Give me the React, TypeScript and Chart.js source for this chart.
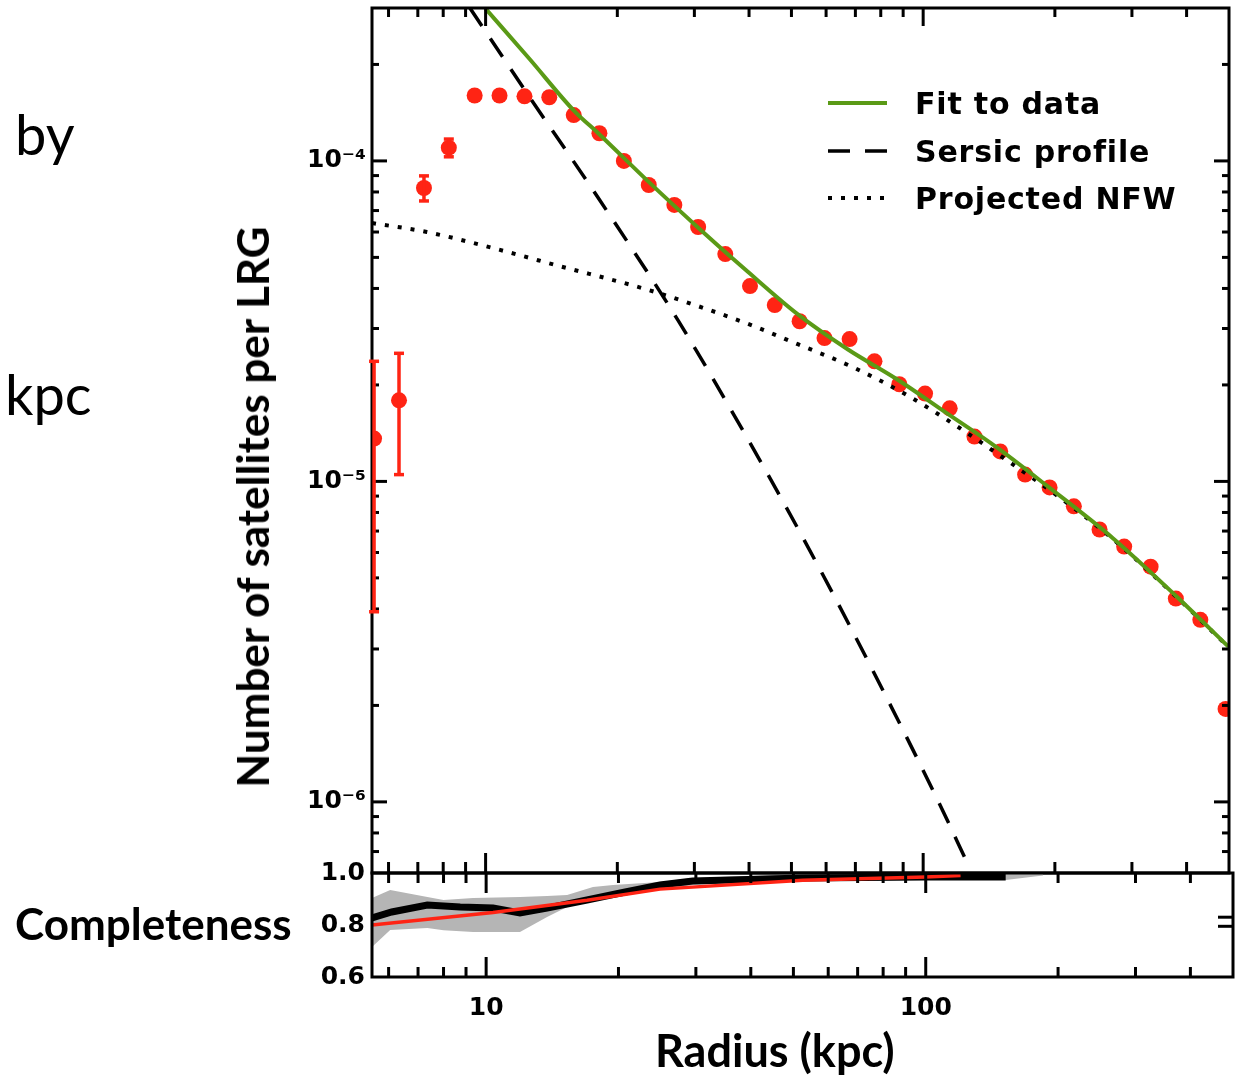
import React, { useEffect, useRef } from "react";
import { Chart, registerables } from "chart.js";

Chart.register(...registerables);

// ---------- axis ranges & ticks ----------
const X_MIN = 5.5;
const X_MAX = 500;
const Y_MIN = 6e-7;
const Y_MAX = 3e-4;
const C_MIN = 0.6;
const C_MAX = 1.0;

const xMajorTicks = [10, 100];
const xMinorTicks = [6, 7, 8, 9, 20, 30, 40, 50, 60, 70, 80, 90, 200, 300, 400];
const xTickLabels = ["10", "100"];
const yMajorTicks = [1e-6, 1e-5, 1e-4];
const yTickLabels = ["10⁻⁶", "10⁻⁵", "10⁻⁴"];
const yMinorTicks = [7e-7, 8e-7, 9e-7, 2e-6, 3e-6, 4e-6, 5e-6, 6e-6, 7e-6, 8e-6, 9e-6, 2e-5, 3e-5, 4e-5, 5e-5, 6e-5, 7e-5, 8e-5, 9e-5, 2e-4];
const cTicks = [0.6, 0.8, 1.0];
const cTickLabels = ["0.6", "0.8", "1.0"];
const cRightMarks = [0.795, 0.83];

// ---------- satellite profile (points) ----------
const radius = [5.56, 6.34, 7.23, 8.24, 9.44, 10.76, 12.27, 13.98, 15.9, 18.2, 20.7, 23.6, 27.0, 30.6, 35.3, 40.2, 45.8, 52.2, 59.5, 67.9, 77.4, 88.2, 101, 115, 131, 150, 171, 194.5, 221, 253, 288, 331, 378, 430, 491];
const satellites = [1.36e-5, 1.79e-5, 8.23e-5, 1.1e-4, 1.6e-4, 1.6e-4, 1.59e-4, 1.58e-4, 1.39e-4, 1.22e-4, 1.0e-4, 8.41e-5, 7.29e-5, 6.22e-5, 5.12e-5, 4.07e-5, 3.55e-5, 3.16e-5, 2.8e-5, 2.78e-5, 2.37e-5, 2.01e-5, 1.88e-5, 1.69e-5, 1.38e-5, 1.24e-5, 1.05e-5, 9.58e-6, 8.36e-6, 7.08e-6, 6.26e-6, 5.42e-6, 4.31e-6, 3.7e-6, 1.95e-6];
const errLow = [3.92e-6, 1.05e-5, 7.5e-5, 1.03e-4];
const errHigh = [2.37e-5, 2.51e-5, 8.98e-5, 1.17e-4];

// ---------- model curves ----------
const fitR = [10.0, 12.59, 15.93, 18.16, 23.59, 30.65, 39.81, 51.72, 67.19, 87.29, 113.4, 147.3, 191.3, 271.8, 377.8, 498.5];
const fitN = [2.985e-4, 2.083e-4, 1.433e-4, 1.214e-4, 8.6e-5, 6.18e-5, 4.5e-5, 3.32e-5, 2.585e-5, 2.08e-5, 1.63e-5, 1.277e-5, 9.72e-6, 6.64e-6, 4.4e-6, 3.05e-6];

const sersicR = [9.197, 12.59, 18.16, 27.6, 39.2, 51.72, 67.19, 87.29, 107.6, 125.9];
const sersicN = [3.007e-4, 1.585e-4, 7.605e-5, 3.162e-5, 1.4e-5, 7.13e-6, 3.65e-6, 1.817e-6, 1.022e-6, 6.49e-7];

const nfwR = [5.5, 7.34, 10.37, 14.73, 23.22, 30.65, 39.8, 51.7, 68.2, 90.5, 119.5, 147.3, 208.9, 271.8, 377.8, 498.5];
const nfwN = [6.4e-5, 6.0e-5, 5.35e-5, 4.7e-5, 3.98e-5, 3.52e-5, 3.1e-5, 2.68e-5, 2.29e-5, 1.88e-5, 1.486e-5, 1.224e-5, 8.75e-6, 6.6e-6, 4.38e-6, 3.04e-6];

// ---------- completeness panel ----------
const bandR = [5.5, 6.05, 7.35, 8.0, 9.34, 11.94, 13.76, 15.28, 17.5, 19.44, 24.86, 29.5, 52.5, 100, 152, 185];
const bandHigh = [0.904, 0.935, 0.908, 0.896, 0.904, 0.908, 0.912, 0.915, 0.946, 0.954, 0.965, 0.981, 0.996, 1.0, 1.0, 0.996];
const bandLow = [0.715, 0.781, 0.788, 0.78, 0.773, 0.773, 0.831, 0.869, 0.896, 0.915, 0.935, 0.954, 0.973, 0.977, 0.973, 0.99];

const measR = [5.5, 6.1, 7.35, 8.73, 10.37, 11.94, 13.76, 16.96, 20.2, 24.86, 29.5, 52.5, 100, 152];
const measC = [0.827, 0.85, 0.877, 0.869, 0.865, 0.846, 0.865, 0.896, 0.923, 0.954, 0.969, 0.981, 0.985, 0.985];

const modelR = [5.5, 10.37, 16.96, 24.86, 52.5, 100, 120];
const modelC = [0.8, 0.848, 0.895, 0.938, 0.972, 0.985, 0.99];

// ---------- styles ----------
const GREEN = "#5a9a16";
const RED = "#ff2414";
const GRAY = "#b5b5b5";
const TICK_FONT = { family: "DejaVu Sans", size: 25, weight: "bold" as const };

const pts = (xs: number[], ys: number[]) => xs.map((x, i) => ({ x, y: ys[i] }));

function drawXTicks(ctx: CanvasRenderingContext2D, xs: any, y: number, dir: number, majLen: number, minLen: number) {
  for (const v of xMajorTicks) {
    const px = xs.getPixelForValue(v);
    ctx.beginPath(); ctx.moveTo(px, y); ctx.lineTo(px, y + dir * majLen); ctx.stroke();
  }
  for (const v of xMinorTicks) {
    const px = xs.getPixelForValue(v);
    ctx.beginPath(); ctx.moveTo(px, y); ctx.lineTo(px, y + dir * minLen); ctx.stroke();
  }
}

const mainDecor = {
  id: "mainDecor",
  afterDatasetsDraw(chart: any) {
    const { ctx, chartArea: a, scales } = chart;
    const xs = scales.x, ys = scales.y;
    ctx.save();
    ctx.strokeStyle = "#000";
    ctx.lineWidth = 3;
    ctx.lineCap = "butt";
    drawXTicks(ctx, xs, a.top, 1, 18, 9);
    drawXTicks(ctx, xs, a.bottom, -1, 20, 11);
    for (const v of yMajorTicks) {
      const py = ys.getPixelForValue(v);
      ctx.beginPath(); ctx.moveTo(a.left, py); ctx.lineTo(a.left + 15, py); ctx.stroke();
      ctx.beginPath(); ctx.moveTo(a.right, py); ctx.lineTo(a.right - 15, py); ctx.stroke();
    }
    for (const v of yMinorTicks) {
      const py = ys.getPixelForValue(v);
      ctx.beginPath(); ctx.moveTo(a.left, py); ctx.lineTo(a.left + 7, py); ctx.stroke();
      ctx.beginPath(); ctx.moveTo(a.right, py); ctx.lineTo(a.right - 7, py); ctx.stroke();
    }
    ctx.strokeRect(a.left, a.top, a.right - a.left, a.bottom - a.top);

    // error bars
    ctx.strokeStyle = RED;
    ctx.lineWidth = 3.5;
    for (let i = 0; i < errLow.length; i++) {
      const px = xs.getPixelForValue(radius[i]);
      const p1 = ys.getPixelForValue(errLow[i]);
      const p2 = ys.getPixelForValue(errHigh[i]);
      ctx.beginPath(); ctx.moveTo(px, p1); ctx.lineTo(px, p2); ctx.stroke();
      ctx.beginPath(); ctx.moveTo(px - 5, p1); ctx.lineTo(px + 5, p1); ctx.stroke();
      ctx.beginPath(); ctx.moveTo(px - 5, p2); ctx.lineTo(px + 5, p2); ctx.stroke();
    }
    ctx.restore();
  },
  afterDraw(chart: any) {
    const { ctx } = chart;
    const ds = chart.data.datasets;
    const rows = [
      { y: 103, d: ds[0] },
      { y: 151, d: ds[1] },
      { y: 198, d: ds[2] },
    ];
    ctx.save();
    for (const r of rows) {
      ctx.strokeStyle = r.d.borderColor;
      ctx.lineWidth = r.d.borderWidth;
      ctx.setLineDash(r.d.legendDash || []);
      ctx.beginPath(); ctx.moveTo(828, r.y); ctx.lineTo(887, r.y); ctx.stroke();
      ctx.setLineDash([]);
      ctx.fillStyle = "#000";
      ctx.font = "bold 30px 'DejaVu Sans'";
      (ctx as any).letterSpacing = "0.8px";
      ctx.textBaseline = "alphabetic";
      ctx.textAlign = "left";
      ctx.fillText(r.d.label, 915, r.y + 11);
    }
    ctx.restore();
  },
};

const lowerDecor = {
  id: "lowerDecor",
  afterDatasetsDraw(chart: any) {
    const { ctx, chartArea: a, scales } = chart;
    const xs = scales.x, ys = scales.y;
    ctx.save();
    ctx.strokeStyle = "#000";
    ctx.lineWidth = 3;
    drawXTicks(ctx, xs, a.top, 1, 20, 10);
    drawXTicks(ctx, xs, a.bottom, -1, 20, 10);
    for (const v of cRightMarks) {
      const py = ys.getPixelForValue(v);
      ctx.beginPath(); ctx.moveTo(a.right, py); ctx.lineTo(a.right - 15, py); ctx.stroke();
    }
    ctx.strokeRect(a.left, a.top, a.right - a.left, a.bottom - a.top);
    ctx.restore();
  },
};

export default function App() {
  const mainRef = useRef<HTMLCanvasElement>(null);
  const lowRef = useRef<HTMLCanvasElement>(null);

  useEffect(() => {
    const main = new Chart(mainRef.current!, {
      type: "scatter",
      data: {
        datasets: [
          { label: "Fit to data", data: pts(fitR, fitN), showLine: true, borderColor: GREEN, borderWidth: 4, cubicInterpolationMode: "monotone", pointRadius: 0, clip: 0, order: 1 } as any,
          { label: "Sersic profile", data: pts(sersicR, sersicN), showLine: true, borderColor: "#000", borderWidth: 3.5, borderDash: [22, 15], legendDash: [22, 15], cubicInterpolationMode: "monotone", pointRadius: 0, clip: 0, order: 2 },
          { label: "Projected NFW", data: pts(nfwR, nfwN), showLine: true, borderColor: "#000", borderWidth: 4, borderDash: [4, 9], legendDash: [4, 9], cubicInterpolationMode: "monotone", pointRadius: 0, clip: 0, order: 3 },
          { label: "Satellites", data: pts(radius, satellites), showLine: false, pointRadius: 8, pointBackgroundColor: RED, pointBorderWidth: 0, borderColor: RED, clip: 0, order: 4 },
        ],
      },
      options: {
        animation: false,
        responsive: false,
        devicePixelRatio: 1,
        layout: { padding: { left: 0, top: 7, right: 4, bottom: 17 } },
        plugins: { legend: { display: false }, tooltip: { enabled: false } },
        scales: {
          x: { type: "logarithmic", min: X_MIN, max: X_MAX, display: false },
          y: {
            type: "logarithmic",
            min: Y_MIN,
            max: Y_MAX,
            position: "left",
            grid: { display: false, drawTicks: false },
            border: { display: false },
            afterBuildTicks: (s: any) => { s.ticks = yMajorTicks.map((v) => ({ value: v })); },
            afterFit: (s: any) => { s.width = 372; s.paddingTop = 0; s.paddingBottom = 0; },
            ticks: {
              autoSkip: false,
              padding: 6,
              color: "#000",
              font: TICK_FONT,
              callback: (v: any) => { const i = yMajorTicks.indexOf(v); return i >= 0 ? yTickLabels[i] : ""; },
            },
          },
        },
      } as any,
      plugins: [mainDecor],
    });

    const lower = new Chart(lowRef.current!, {
      type: "scatter",
      data: {
        datasets: [
          { label: "upper", data: pts(bandR, bandHigh), showLine: true, borderWidth: 0, borderColor: "rgba(0,0,0,0)", backgroundColor: GRAY, fill: "+1", pointRadius: 0, clip: 0, order: 3 } as any,
          { label: "lower", data: pts(bandR, bandLow), showLine: true, borderWidth: 0, borderColor: "rgba(0,0,0,0)", backgroundColor: GRAY, fill: false, pointRadius: 0, clip: 0, order: 4 },
          { label: "measured", data: pts(measR, measC), showLine: true, borderColor: "#000", borderWidth: 7, pointRadius: 0, clip: 0, order: 2 },
          { label: "fit", data: pts(modelR, modelC), showLine: true, borderColor: RED, borderWidth: 3.5, pointRadius: 0, clip: 0, order: 1 },
        ],
      },
      options: {
        animation: false,
        responsive: false,
        devicePixelRatio: 1,
        layout: { padding: { left: 0, top: 23, right: 4, bottom: 0 } },
        plugins: { legend: { display: false }, tooltip: { enabled: false } },
        scales: {
          x: {
            type: "logarithmic",
            min: X_MIN,
            max: X_MAX,
            position: "bottom",
            grid: { display: false, drawTicks: false },
            border: { display: false },
            afterBuildTicks: (s: any) => { s.ticks = xMajorTicks.map((v) => ({ value: v })); },
            afterFit: (s: any) => { s.height = 101; s.paddingLeft = 0; s.paddingRight = 0; },
            ticks: {
              autoSkip: false,
              maxRotation: 0,
              padding: 16,
              color: "#000",
              font: TICK_FONT,
              callback: (v: any) => { const i = xMajorTicks.indexOf(v); return i >= 0 ? xTickLabels[i] : ""; },
            },
          },
          y: {
            type: "linear",
            min: C_MIN,
            max: C_MAX,
            position: "left",
            grid: { display: false, drawTicks: false },
            border: { display: false },
            afterBuildTicks: (s: any) => { s.ticks = cTicks.map((v) => ({ value: v })); },
            afterFit: (s: any) => { s.width = 372; s.paddingTop = 0; s.paddingBottom = 0; },
            ticks: {
              autoSkip: false,
              padding: 7,
              color: "#000",
              font: TICK_FONT,
              callback: (v: any) => { const i = cTicks.indexOf(v); return i >= 0 ? cTickLabels[i] : ""; },
            },
          },
        },
      } as any,
      plugins: [lowerDecor],
    });

    return () => {
      main.destroy();
      lower.destroy();
    };
  }, []);

  const slide: React.CSSProperties = { position: "absolute", fontFamily: "Lato", color: "#000", whiteSpace: "nowrap", lineHeight: 1 };

  return (
    <div style={{ position: "absolute", left: 0, top: 0, width: 1237, height: 1078, background: "#fff", overflow: "hidden" }}>
      <canvas ref={mainRef} width={1237} height={890} style={{ position: "absolute", left: 0, top: 0, width: 1237, height: 890 }} />
      <canvas ref={lowRef} width={1237} height={228} style={{ position: "absolute", left: 0, top: 850, width: 1237, height: 228 }} />
      <div style={{ ...slide, left: 15, top: 106, fontSize: 56 }}>by</div>
      <div style={{ ...slide, left: 5, top: 366, fontSize: 56 }}>kpc</div>
      <div style={{ ...slide, left: 15, top: 901, fontSize: 44, fontWeight: 700 }}>Completeness</div>
      <div style={{ ...slide, left: 655, top: 1028, fontSize: 45, fontWeight: 700 }}>Radius (kpc)</div>
      <div style={{ ...slide, left: 252, top: 507, fontSize: 44, fontWeight: 700, transform: "translate(-50%, -50%) rotate(-90deg)" }}>Number of satellites per LRG</div>
    </div>
  );
}
